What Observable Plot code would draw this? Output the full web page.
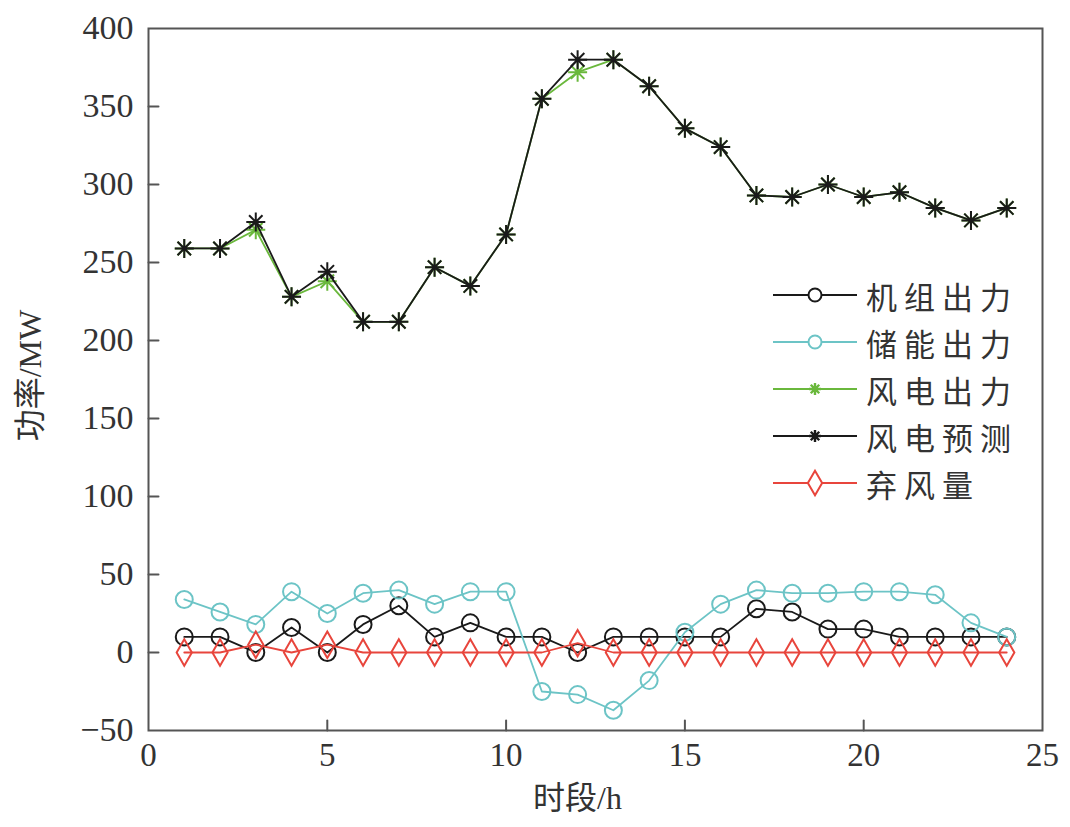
<!DOCTYPE html>
<html>
<head>
<meta charset="utf-8">
<script src="https://cdn.jsdelivr.net/npm/d3@7"></script>
<script src="https://cdn.jsdelivr.net/npm/@observablehq/plot@0.6"></script>
<style>
  html, body { margin: 0; padding: 0; background: #fff; }
  #wrap { position: relative; width: 1070px; height: 827px; }
  .leg { position: absolute; left: 770px; display: flex; align-items: center; height: 40px;
         font-family: "Noto Sans CJK SC", sans-serif; font-size: 31px; letter-spacing: 7px; color: #333; }
  .leg svg { display: block; margin-right: 6px; }
</style>
</head>
<body>
<div id="wrap"></div>
<script>
// ---- data ----
const hours = [1,2,3,4,5,6,7,8,9,10,11,12,13,14,15,16,17,18,19,20,21,22,23,24];
const unitOutput = [10,10,0,16,0,18,30,10,19,10,10,0,10,10,10,10,28,26,15,15,10,10,10,10];
const storageOutput = [34,26,18,39,25,38,40,31,39,39,-25,-27,-37,-18,13,31,40,38,38,39,39,37,19,10];
const windOutput = [259,259,271,228,238,212,212,247,235,268,355,372,380,363,336,324,293,292,300,292,295,285,277,285];
const windForecast = [259,259,276,228,244,212,212,247,235,268,355,380,380,363,336,324,293,292,300,292,295,285,277,285];
const curtailment = [0,0,5,0,5,0,0,0,0,0,0,6,0,0,0,0,0,0,0,0,0,0,0,0];
const seriesNames = ["机组出力","储能出力","风电出力","风电预测","弃风量"];
const xTicks = [0,5,10,15,20,25];
const yTicks = [-50,0,50,100,150,200,250,300,350,400];
const xInnerTicks = [5,10,15,20];
const yInnerTicks = [0,50,100,150,200,250,300,350];
const xMin = 0, yMin = -50;

// 8-pointed asterisk (MATLAB-like "*")
const asterisk8 = {
  draw(ctx, size) {
    const r = Math.sqrt(size / Math.PI);
    for (let i = 0; i < 4; i++) {
      const a = i * Math.PI / 4;
      ctx.moveTo(-r * Math.cos(a), -r * Math.sin(a));
      ctx.lineTo(r * Math.cos(a), r * Math.sin(a));
    }
  }
};
// straight line shape for inward ticks
const tickShape = {draw(ctx, l) { ctx.moveTo(0, 0); ctx.lineTo(0, -l); }};

const styles = [
  {name: seriesNames[0], values: unitOutput, color: "#1a1a1a", symbol: "circle", r: 8.5},
  {name: seriesNames[1], values: storageOutput, color: "#6cc4c6", symbol: "circle", r: 8.5},
  {name: seriesNames[2], values: windOutput, color: "#6ab83c", symbol: asterisk8, r: 9.5},
  {name: seriesNames[3], values: windForecast, color: "#1a1a1a", symbol: asterisk8, r: 9.5},
  {name: seriesNames[4], values: curtailment, color: "#e8453c", symbol: "diamond", r: 8}
];

const marks = [];
for (const s of styles) {
  const data = hours.map((h, i) => ({h, v: s.values[i]}));
  marks.push(Plot.line(data, {x: "h", y: "v", stroke: s.color, strokeWidth: 1.8}));
  marks.push(Plot.dot(data, {x: "h", y: "v", stroke: s.color, fill: "none", symbol: s.symbol, r: s.r, strokeWidth: 2}));
}

const xTickData = xInnerTicks.map(v => ({x: v, y: yMin}));
const yTickData = yInnerTicks.map(v => ({x: xMin, y: v}));

const fontStack = '"Liberation Serif", "Noto Sans CJK SC", serif';
const chart = Plot.plot({
  width: 1070,
  height: 827,
  marginLeft: 148,
  marginRight: 28,
  marginTop: 28,
  marginBottom: 97,
  style: {fontFamily: fontStack, fontSize: "33px", color: "#333", background: "#fff"},
  x: {domain: [0, 25]},
  y: {domain: [-50, 400]},
  marks: [
    ...marks,
    Plot.frame({stroke: "#555", strokeWidth: 2}),
    Plot.vector(xTickData, {x: "x", y: "y", length: 10, rotate: 0, anchor: "start", shape: tickShape, stroke: "#555", strokeWidth: 2}),
    Plot.vector(yTickData, {x: "x", y: "y", length: 10, rotate: 90, anchor: "start", shape: tickShape, stroke: "#555", strokeWidth: 2}),
    Plot.axisX({ticks: xTicks, tickSize: 0, tickPadding: 12, label: null, fontSize: 33, fill: "#333"}),
    Plot.axisY({ticks: yTicks, tickSize: 0, tickPadding: 15, label: null, fontSize: 34, fill: "#333"}),
    Plot.text(["时段/h"], {frameAnchor: "bottom", dx: -18, dy: 78, fontSize: 32, fill: "#333", fontFamily: fontStack}),
    Plot.text(["功率/MW"], {frameAnchor: "left", textAnchor: "middle", dx: -118, dy: -4, rotate: -90, fontSize: 32, letterSpacing: 5, fill: "#333", fontFamily: fontStack})
  ]
});

const wrap = document.getElementById("wrap");
wrap.appendChild(chart);

// legend overlay
const legTops = [275, 322, 369, 416, 463];
styles.forEach((s, i) => {
  const row = document.createElement("div");
  row.className = "leg";
  row.style.top = legTops[i] + "px";
  const svg = d3.create("svg").attr("width", 90).attr("height", 40);
  svg.append("line").attr("x1", 3).attr("x2", 87).attr("y1", 20).attr("y2", 20)
    .attr("stroke", s.color).attr("stroke-width", 2);
  const isStar = s.symbol === asterisk8;
  const sym = isStar ? asterisk8 : (s.symbol === "circle" ? d3.symbolCircle : d3.symbolDiamond);
  const rr = isStar ? 6 : (s.symbol === "circle" ? 6.5 : 7.5);
  svg.append("path").attr("d", d3.symbol(sym, rr * rr * Math.PI)()).attr("transform", "translate(45,20)")
    .attr("fill", isStar ? "none" : "#fff").attr("stroke", s.color).attr("stroke-width", isStar ? 2.4 : 2);
  row.appendChild(svg.node());
  const t = document.createElement("span");
  t.textContent = s.name;
  row.appendChild(t);
  wrap.appendChild(row);
});
</script>
</body>
</html>
